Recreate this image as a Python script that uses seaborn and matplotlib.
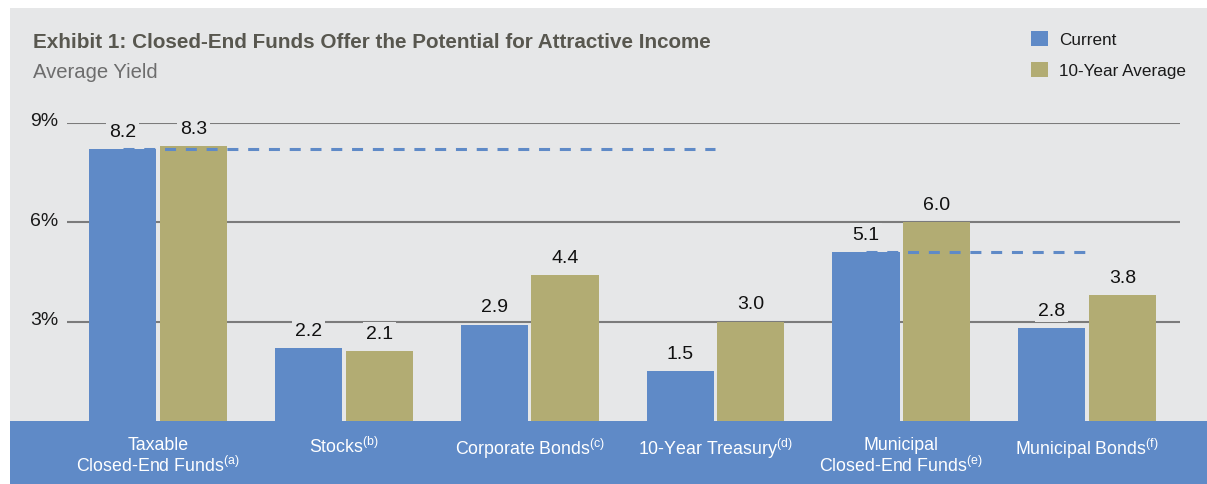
import matplotlib
matplotlib.use("Agg")
import matplotlib.pyplot as plt
import matplotlib.transforms as mtransforms
from matplotlib.patches import Rectangle
from matplotlib import font_manager
import seaborn as sns
import pandas as pd

# ---- data ----
categories = [
    "Taxable\nClosed-End Funds$^{\\rm (a)}$",
    "Stocks$^{\\rm (b)}$",
    "Corporate Bonds$^{\\rm (c)}$",
    "10-Year Treasury$^{\\rm (d)}$",
    "Municipal\nClosed-End Funds$^{\\rm (e)}$",
    "Municipal Bonds$^{\\rm (f)}$",
]
series_names = ["Current", "10-Year Average"]
current = [8.2, 2.2, 2.9, 1.5, 5.1, 2.8]
ten_year_avg = [8.3, 2.1, 4.4, 3.0, 6.0, 3.8]
y_ticks = [3, 6, 9]
y_tick_labels = ["3%", "6%", "9%"]
title = "Exhibit 1: Closed-End Funds Offer the Potential for Attractive Income"
subtitle = "Average Yield"

# ---- style ----
BLUE = "#5f8ac7"
OLIVE = "#b2ac73"
PANEL = "#e6e7e8"
GRID = "#7b7b7b"

sns.set_theme(style="white")
available = {f.name for f in font_manager.fontManager.ttflist}
FONT = "Liberation Sans Narrow" if "Liberation Sans Narrow" in available else "Liberation Sans"
plt.rcParams["font.family"] = [FONT, "DejaVu Sans"]
plt.rcParams["mathtext.fontset"] = "custom"
plt.rcParams["mathtext.rm"] = FONT
plt.rcParams["mathtext.it"] = FONT
plt.rcParams["mathtext.bf"] = FONT

W, H = 1207, 485
fig = plt.figure(figsize=(W / 100, H / 100), dpi=100)
fig.patch.set_facecolor("white")

# background panel and bottom band
fig.patches.append(Rectangle((10 / W, 0), 1 - 10 / W, 1 - 9 / H, transform=fig.transFigure,
                             facecolor=PANEL, edgecolor="none", zorder=-3))
fig.patches.append(Rectangle((10 / W, 0), 1 - 10 / W, (H - 422) / H, transform=fig.transFigure,
                             facecolor=BLUE, edgecolor="none", zorder=-2))

ax = fig.add_axes([67 / W, (H - 422) / H, (1180 - 67) / W, (422 - 124) / H])
ax.patch.set_visible(False)

df = pd.DataFrame({
    "category": categories * 2,
    "series": [series_names[0]] * len(categories) + [series_names[1]] * len(categories),
    "value": current + ten_year_avg,
})

sns.barplot(data=df, x="category", y="value", hue="series", order=categories,
            hue_order=series_names, palette=[BLUE, OLIVE], width=0.76, gap=0.05,
            saturation=1, linewidth=0, edgecolor="none", ax=ax, zorder=2)

ax.set_xlim(-0.49, len(categories) - 0.5)
ax.set_ylim(0, 9)
ax.set_xlabel("")
ax.set_ylabel("")
for s in ax.spines.values():
    s.set_visible(False)

ax.set_yticks(y_ticks)
ax.set_yticklabels(y_tick_labels)
ax.yaxis.grid(True, color=GRID, linewidth=1.5, zorder=0)
ax.set_axisbelow(True)
ax.tick_params(axis="y", length=0, pad=6, labelsize=14, labelcolor="#1a1a1a")
for lab in ax.get_yticklabels():
    lab.set_transform(lab.get_transform() + mtransforms.ScaledTranslation(0, 3 / 72, fig.dpi_scale_trans))

ax.tick_params(axis="x", length=0, pad=11, labelsize=12.8, labelcolor="white")
for lab in ax.get_xticklabels():
    lab.set_linespacing(1.12)
    lab.set_va("top")

# value labels
for container in ax.containers:
    for bar in container:
        h = bar.get_height()
        ax.annotate(f"{h:.1f}", (bar.get_x() + bar.get_width() / 2, h),
                    xytext=(0, 13), textcoords="offset points", ha="center", va="center",
                    fontsize=14, color="#111111", zorder=4,
                    bbox=dict(boxstyle="square,pad=0.15", facecolor=PANEL, edgecolor="none"))

# dashed reference lines at current levels
cur_bars = ax.containers[0]
b0 = cur_bars[0]
ax.plot([b0.get_x() + b0.get_width() / 2, 3], [current[0]] * 2, color=BLUE, lw=2.2,
        linestyle=(0, (3.6, 3.2)), zorder=3)
b4 = cur_bars[4]
ax.plot([b4.get_x() + b4.get_width() / 2, 5], [current[4]] * 2, color=BLUE, lw=2.2,
        linestyle=(0, (3.6, 3.2)), zorder=3)

# legend
sns.move_legend(ax, loc="upper left", bbox_to_anchor=(1024 / W, 1 - 25 / H),
                bbox_transform=fig.transFigure, frameon=False, title=None,
                fontsize=12.3, handlelength=1.0, handleheight=1.0, handletextpad=0.65,
                labelspacing=0.85, borderaxespad=0)
for t in ax.get_legend().get_texts():
    t.set_color("#1a1a1a")

# titles
fig.text(33 / W, 1 - 42 / H, title, fontsize=14.9, fontweight="bold", color="#58574f",
         ha="left", va="center")
fig.text(33 / W, 1 - 73 / H, subtitle, fontsize=14.6, color="#6d6d6d", ha="left", va="center")

fig.savefig("out.png", dpi=100)
